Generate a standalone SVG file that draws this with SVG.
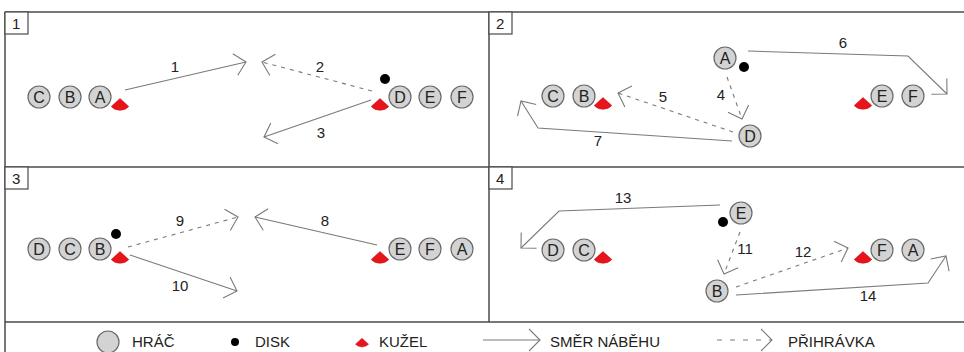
<svg xmlns="http://www.w3.org/2000/svg" width="964" height="352" viewBox="0 0 964 352">
<style>
.grid{stroke:#4a4a4a;stroke-width:1.5;fill:none}
.box{stroke:#4a4a4a;stroke-width:1.2;fill:#fff}
.pl{fill:#d3d3d3;stroke:#6a6a6a;stroke-width:1.2}
.lt{font-family:"Liberation Sans",Arial,sans-serif;font-size:16px;fill:#222;text-anchor:middle}
.num{font-family:"Liberation Sans",Arial,sans-serif;font-size:15px;fill:#222;text-anchor:middle}
.pn{font-family:"Liberation Sans",Arial,sans-serif;font-size:15px;fill:#222}
.lg{font-family:"Liberation Sans",Arial,sans-serif;font-size:15px;fill:#222}
.disk{fill:#000}
.cone{fill:#e8141b;stroke:#c01010;stroke-width:0.5}
.run{stroke:#7a7a7a;stroke-width:1.1;fill:none;marker-end:url(#head)}
.pass{stroke:#7a7a7a;stroke-width:1.1;fill:none;stroke-dasharray:4 5;marker-end:url(#head)}
</style>
<defs>
<marker id="head" markerUnits="userSpaceOnUse" viewBox="-13 -13 15 26" refX="0" refY="0" markerWidth="15" markerHeight="26" orient="auto">
<path d="M-11,-11 L0,0 L-11,11" fill="none" stroke="#7a7a7a" stroke-width="1.1"/>
</marker>
<path id="conep" d="M0,-6.5 L-8.8,1.5 A12,12 0 0,0 8.8,1.5 Z"/>
</defs>
<rect width="964" height="352" fill="#fff"/>
<g id="frame">
<line class="grid" x1="5" y1="12" x2="964" y2="12"/>
<line class="grid" x1="5" y1="12" x2="5" y2="352"/>
<line class="grid" x1="489" y1="12" x2="489" y2="322"/>
<line class="grid" x1="5" y1="167" x2="964" y2="167"/>
<line class="grid" x1="5" y1="322" x2="964" y2="322"/>
</g>
<g id="panel-labels">
<rect class="box" x="5" y="12" width="23" height="22"/><text class="pn" x="12" y="29">1</text>
<rect class="box" x="489" y="12" width="23" height="22"/><text class="pn" x="496" y="29">2</text>
<rect class="box" x="5" y="167" width="23" height="22"/><text class="pn" x="12" y="184">3</text>
<rect class="box" x="489" y="167" width="23" height="22"/><text class="pn" x="496" y="184">4</text>
</g>
<g id="connectors">
<polyline class="run" points="125,90 246,62"/>
<polyline class="pass" points="372,91 262,62"/>
<polyline class="run" points="371,100 264,137"/>
<polyline class="pass" points="727,77 742,119"/>
<polyline class="pass" points="733,132 618,93"/>
<polyline class="run" points="748,51 908,56 947,94"/>
<polyline class="run" points="732,141 538,128 521,101"/>
<polyline class="pass" points="128,247 238,217"/>
<polyline class="run" points="377,245 255,217"/>
<polyline class="run" points="130,255 237,291"/>
<polyline class="pass" points="740,232 724,274"/>
<polyline class="pass" points="736,287 848,248"/>
<polyline class="run" points="720,205 559,211 521,248"/>
<polyline class="run" points="736,295 928,283 946,256"/>
</g>
<g id="connector-labels">
<text class="num" x="175" y="72">1</text>
<text class="num" x="320" y="72">2</text>
<text class="num" x="321" y="138">3</text>
<text class="num" x="721" y="100">4</text>
<text class="num" x="663" y="102">5</text>
<text class="num" x="843" y="48">6</text>
<text class="num" x="598" y="146">7</text>
<text class="num" x="325" y="226">8</text>
<text class="num" x="180" y="226">9</text>
<text class="num" x="180" y="291">10</text>
<text class="num" x="745" y="254">11</text>
<text class="num" x="803" y="257">12</text>
<text class="num" x="623" y="203">13</text>
<text class="num" x="868" y="301">14</text>
</g>
<!-- Panel 1 -->
<g id="p1-C"><circle class="pl" cx="39" cy="97" r="11"/><text class="lt" x="39" y="103">C</text></g>
<g id="p1-B"><circle class="pl" cx="70" cy="97" r="11"/><text class="lt" x="70" y="103">B</text></g>
<g id="p1-A"><circle class="pl" cx="100" cy="97" r="11"/><text class="lt" x="100" y="103">A</text></g>
<g id="p1-D"><circle class="pl" cx="400" cy="97" r="11"/><text class="lt" x="400" y="103">D</text></g>
<g id="p1-E"><circle class="pl" cx="430" cy="97" r="11"/><text class="lt" x="430" y="103">E</text></g>
<g id="p1-F"><circle class="pl" cx="462" cy="97" r="11"/><text class="lt" x="462" y="103">F</text></g>
<g id="p1-cone1"><use href="#conep" class="cone" x="120" y="105"/></g>
<g id="p1-cone2"><use href="#conep" class="cone" x="380" y="105"/></g>
<g id="p1-disk"><circle class="disk" cx="385" cy="79" r="5"/></g>
<!-- Panel 2 -->
<g id="p2-A"><circle class="pl" cx="725" cy="58" r="11"/><text class="lt" x="725" y="64">A</text></g>
<g id="p2-C"><circle class="pl" cx="553" cy="96" r="11"/><text class="lt" x="553" y="102">C</text></g>
<g id="p2-B"><circle class="pl" cx="584" cy="96" r="11"/><text class="lt" x="584" y="102">B</text></g>
<g id="p2-E"><circle class="pl" cx="882" cy="96" r="11"/><text class="lt" x="882" y="102">E</text></g>
<g id="p2-F"><circle class="pl" cx="913" cy="96" r="11"/><text class="lt" x="913" y="102">F</text></g>
<g id="p2-D"><circle class="pl" cx="750" cy="136" r="11"/><text class="lt" x="750" y="142">D</text></g>
<g id="p2-cone1"><use href="#conep" class="cone" x="603" y="104"/></g>
<g id="p2-cone2"><use href="#conep" class="cone" x="863" y="104"/></g>
<g id="p2-disk"><circle class="disk" cx="744" cy="67" r="5"/></g>
<!-- Panel 3 -->
<g id="p3-D"><circle class="pl" cx="39" cy="249" r="11"/><text class="lt" x="39" y="255">D</text></g>
<g id="p3-C"><circle class="pl" cx="70" cy="249" r="11"/><text class="lt" x="70" y="255">C</text></g>
<g id="p3-B"><circle class="pl" cx="100" cy="249" r="11"/><text class="lt" x="100" y="255">B</text></g>
<g id="p3-E"><circle class="pl" cx="400" cy="249" r="11"/><text class="lt" x="400" y="255">E</text></g>
<g id="p3-F"><circle class="pl" cx="430" cy="249" r="11"/><text class="lt" x="430" y="255">F</text></g>
<g id="p3-A"><circle class="pl" cx="462" cy="249" r="11"/><text class="lt" x="462" y="255">A</text></g>
<g id="p3-cone1"><use href="#conep" class="cone" x="120" y="258"/></g>
<g id="p3-cone2"><use href="#conep" class="cone" x="380" y="258"/></g>
<g id="p3-disk"><circle class="disk" cx="116" cy="234" r="5"/></g>
<!-- Panel 4 -->
<g id="p4-E"><circle class="pl" cx="741" cy="213" r="11"/><text class="lt" x="741" y="219">E</text></g>
<g id="p4-D"><circle class="pl" cx="553" cy="250" r="11"/><text class="lt" x="553" y="256">D</text></g>
<g id="p4-C"><circle class="pl" cx="584" cy="250" r="11"/><text class="lt" x="584" y="256">C</text></g>
<g id="p4-F"><circle class="pl" cx="882" cy="250" r="11"/><text class="lt" x="882" y="256">F</text></g>
<g id="p4-A"><circle class="pl" cx="913" cy="250" r="11"/><text class="lt" x="913" y="256">A</text></g>
<g id="p4-B"><circle class="pl" cx="717" cy="291" r="11"/><text class="lt" x="717" y="297">B</text></g>
<g id="p4-cone1"><use href="#conep" class="cone" x="603" y="258"/></g>
<g id="p4-cone2"><use href="#conep" class="cone" x="863" y="258"/></g>
<g id="p4-disk"><circle class="disk" cx="723" cy="222" r="5"/></g>
<!-- Legend -->
<g id="legend">
<circle class="pl" cx="108" cy="342" r="11"/>
<text class="lg" x="132" y="347">HRÁČ</text>
<circle class="disk" cx="235" cy="342" r="4"/>
<text class="lg" x="255" y="347">DISK</text>
<use href="#conep" class="cone" x="362" y="343" transform="translate(362 343) scale(0.75) translate(-362 -343)"/>
<text class="lg" x="379" y="347">KUŽEL</text>
<line x1="483" y1="340" x2="540" y2="340" stroke="#7a7a7a" stroke-width="1.1" marker-end="url(#head)"/>
<text class="lg" x="550" y="347">SMĚR NÁBĚHU</text>
<line x1="717" y1="340" x2="772" y2="340" stroke="#7a7a7a" stroke-width="1.1" stroke-dasharray="5 8" marker-end="url(#head)"/>
<text class="lg" x="788" y="347">PŘIHRÁVKA</text>
</g>
</svg>
